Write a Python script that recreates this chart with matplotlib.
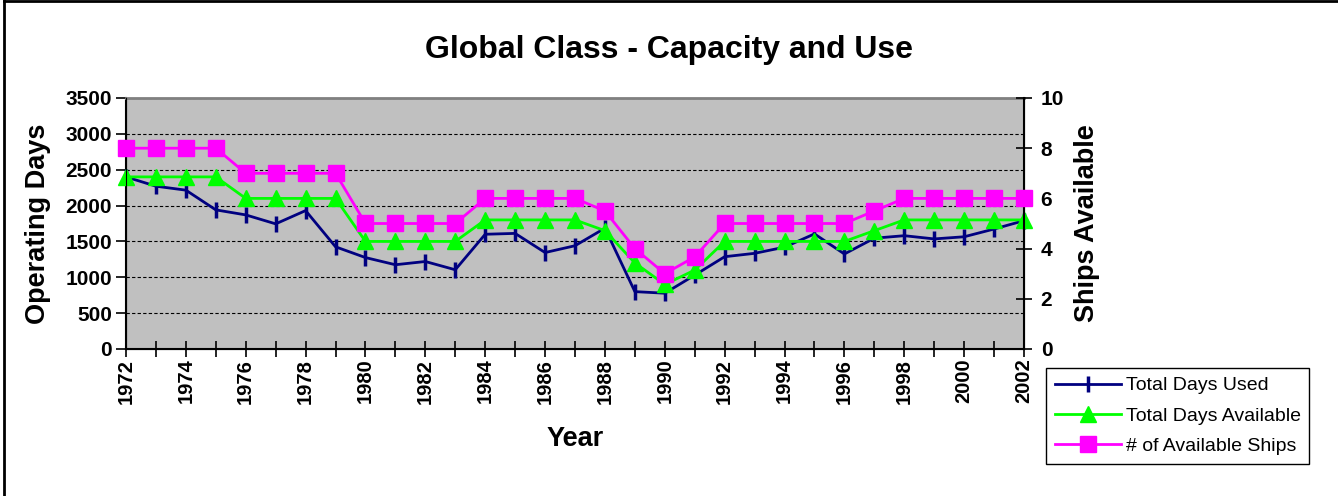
import numpy as np
import matplotlib.pyplot as plt
from matplotlib.lines import Line2D

plt.rcParams['font.family'] = ['Liberation Sans', 'DejaVu Sans']

years = list(range(1972, 2003))
days_used = [2400, 2270, 2215, 1940, 1870, 1745, 1930, 1425, 1275, 1175, 1220, 1105,
             1600, 1612, 1345, 1440, 1685, 800, 778, 1030, 1287, 1334, 1420, 1605,
             1325, 1545, 1580, 1535, 1565, 1673, 1790]
days_avail = [2400, 2400, 2400, 2400, 2100, 2100, 2100, 2100, 1500, 1500, 1500, 1500,
              1800, 1800, 1800, 1800, 1650, 1200, 900, 1100, 1500, 1500, 1500, 1500,
              1500, 1650, 1800, 1800, 1800, 1800, 1800]
ships = [8, 8, 8, 8, 7, 7, 7, 7, 5, 5, 5, 5, 6, 6, 6, 6, 5.5, 4, 3, 3.67,
         5, 5, 5, 5, 5, 5.5, 6, 6, 6, 6, 6]

fig = plt.figure(figsize=(13.38, 4.96), dpi=100)
ax = fig.add_axes([126 / 1338, 1 - 349 / 496, (1024 - 126) / 1338, (349 - 98) / 496])
ax.set_facecolor('#C0C0C0')

l1, = ax.plot(years, days_used, color='#000080', lw=2, marker='|', ms=11, mew=2.5,
              clip_on=False, zorder=3, label='Total Days Used')
l2, = ax.plot(years, days_avail, color='#00FF00', lw=2, marker='^', ms=12,
              clip_on=False, zorder=4, label='Total Days Available')
ax.set_xlim(1972, 2002)
ax.set_ylim(0, 3500)
ax.set_yticks(np.arange(0, 3501, 500))
ax.set_xticks(years)
ax.set_xticklabels([str(y) if y % 2 == 0 else '' for y in years], rotation=90,
                   fontsize=14.5, fontweight='bold')
ax.tick_params(axis='x', direction='inout', length=12, width=1.2, pad=1)
ax.tick_params(axis='y', direction='out', length=7, width=1.2, labelsize=15, pad=3)
for t in ax.get_yticklabels():
    t.set_fontweight('bold')
ax.grid(axis='y', color='black', linestyle=(0, (3, 2)), lw=0.8)
ax.set_axisbelow(True)
ax.set_ylabel('Operating Days', fontsize=19.5, fontweight='bold')
ax.yaxis.set_label_coords(-0.098, 0.5)
ax.set_xlabel('Year', fontsize=19.5, fontweight='bold')
ax.xaxis.set_label_coords(0.5, -0.36)
ax.xaxis.label.set_va('center')
ax.yaxis.label.set_va('center')
ax.spines['top'].set_color('#808080')
ax.spines['top'].set_linewidth(2)
ax.spines['left'].set_linewidth(1.5)
ax.spines['bottom'].set_linewidth(1.5)

ax2 = ax.twinx()
l3, = ax2.plot(years, ships, color='#FF00FF', lw=2, marker='s', ms=11.5,
               clip_on=False, zorder=5, label='# of Available Ships')
ax2.set_ylim(0, 10)
ax2.set_yticks(np.arange(0, 11, 2))
ax2.tick_params(axis='y', direction='inout', length=12, width=1.2, labelsize=15, pad=6)
for t in ax2.get_yticklabels():
    t.set_fontweight('bold')
ax2.set_ylabel('Ships Available', fontsize=19.5, fontweight='bold')
ax2.yaxis.set_label_coords(1.070, 0.5)
ax2.yaxis.label.set_va('center')
ax2.spines['top'].set_visible(False)
ax2.spines['right'].set_linewidth(1.5)

fig.text(0.5, 1 - 50 / 496, 'Global Class - Capacity and Use', fontsize=23,
         fontweight='bold', ha='center', va='center')

leg = fig.legend(handles=[l1, l2, l3], loc='upper left',
                 bbox_to_anchor=(1046 / 1338, 1 - 368 / 496), fontsize=14,
                 frameon=True, fancybox=False, edgecolor='black', framealpha=1,
                 handlelength=3.4, borderpad=0.45, labelspacing=0.65,
                 handletextpad=0.25, borderaxespad=0)
leg.get_frame().set_linewidth(1)

fig.add_artist(Line2D([0.003, 0.003], [0, 0.997], color='black', lw=2))
fig.add_artist(Line2D([0.003, 1], [0.997, 0.997], color='black', lw=2))

fig.savefig('out.png', dpi=100)
